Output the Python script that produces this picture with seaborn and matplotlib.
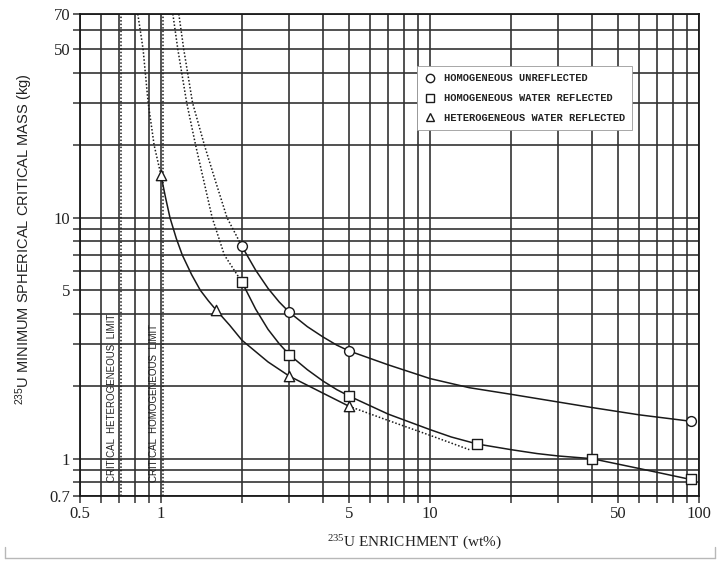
import matplotlib
matplotlib.use("Agg")
import matplotlib.pyplot as plt
from matplotlib.ticker import FixedLocator, FixedFormatter, NullFormatter
from matplotlib.lines import Line2D
import seaborn as sns
import pandas as pd

# ---------------- data ----------------
# marker points
circ_x = [2.0, 3.0, 5.0, 93.0]
circ_y = [7.6, 4.05, 2.8, 1.43]
sq_x = [2.0, 3.0, 5.0, 15.0, 40.0, 93.0]
sq_y = [5.4, 2.7, 1.82, 1.15, 1.0, 0.82]
tri_x = [1.0, 1.6, 3.0, 5.0]
tri_y = [15.0, 4.15, 2.2, 1.65]

# curves
circ_dot_x = [1.165, 1.215, 1.31, 1.45, 1.6, 1.76, 2.0]
circ_dot_y = [70, 50, 30, 20, 14, 10, 7.6]
circ_sol_x = [2.0, 2.25, 2.5, 2.75, 3.0, 3.5, 4.0, 4.5, 5.0, 7.0, 10.0, 14.0,
              20.0, 40.0, 60.0, 93.0]
circ_sol_y = [7.6, 6.05, 5.09, 4.47, 4.05, 3.53, 3.2, 2.96, 2.8, 2.45, 2.15, 1.97,
              1.85, 1.63, 1.52, 1.43]

sq_dot_x = [1.107, 1.155, 1.246, 1.345, 1.55, 1.72, 2.0]
sq_dot_y = [70, 50, 30, 20, 10, 7.0, 5.4]
sq_sol_x = [2.0, 2.25, 2.5, 2.75, 3.0, 3.5, 4.0, 4.5, 5.0, 7.0, 10.0, 12.0, 15.0,
            20.0, 25.0, 30.0, 40.0, 60.0, 93.0]
sq_sol_y = [5.4, 4.17, 3.44, 3.0, 2.7, 2.34, 2.1, 1.935, 1.82, 1.53, 1.32, 1.23, 1.15,
            1.09, 1.05, 1.026, 1.0, 0.91, 0.82]

tri_dot_top_x = [0.82, 0.858, 0.896, 0.943, 1.0]
tri_dot_top_y = [70, 50, 30, 20, 15]
tri_sol_x = [1.0, 1.04, 1.08, 1.14, 1.2, 1.3, 1.4, 1.5, 1.6, 1.8, 2.0, 2.5, 3.0, 4.0, 5.0]
tri_sol_y = [15.0, 12.1, 10.0, 8.2, 7.0, 5.8, 5.0, 4.52, 4.15, 3.58, 3.1, 2.52, 2.2, 1.87, 1.65]
tri_dot_end_x = [5.0, 7.0, 10.0, 14.0]
tri_dot_end_y = [1.65, 1.44, 1.25, 1.09]

limit_het = 0.71
limit_hom = 1.02

legend_labels = ["HOMOGENEOUS UNREFLECTED",
                 "HOMOGENEOUS WATER REFLECTED",
                 "HETEROGENEOUS WATER REFLECTED"]
limit_labels = ["CRITICAL  HETEROGENEOUS  LIMIT", "CRITICAL  HOMOGENEOUS  LIMIT"]

x_major = [0.5, 1, 5, 10, 50, 100]
x_major_labels = ["0.5", "1", "5", "10", "50", "100"]
x_minor = [0.6, 0.7, 0.8, 0.9, 2, 3, 4, 6, 7, 8, 9, 20, 30, 40, 60, 70, 80, 90]
y_major = [0.7, 1, 5, 10, 50, 70]
y_major_labels = ["0.7", "1", "5", "10", "50", "70"]
y_minor = [0.8, 0.9, 2, 3, 4, 6, 7, 8, 9, 20, 30, 40, 60]

# ---------------- style ----------------
sns.set_theme(style="white")
plt.rcParams["font.family"] = ["Liberation Serif", "DejaVu Serif"]
plt.rcParams["mathtext.fontset"] = "custom"
plt.rcParams["mathtext.rm"] = "Liberation Serif"
plt.rcParams["mathtext.default"] = "regular"

W, H = 720, 562
L, R, T, B = 80, 699, 14, 496
fig = plt.figure(figsize=(7.2, 5.62), dpi=100)
ax = fig.add_axes([L / W, 1 - B / H, (R - L) / W, (B - T) / H])
ax.set_xscale("log")
ax.set_yscale("log")
ax.set_xlim(0.5, 100)
ax.set_ylim(0.7, 70)

ink = "#1a1a1a"
gridc = "#333333"
txtc = "#222222"

ax.xaxis.set_major_locator(FixedLocator(x_major))
ax.xaxis.set_major_formatter(FixedFormatter(x_major_labels))
ax.xaxis.set_minor_locator(FixedLocator(x_minor))
ax.xaxis.set_minor_formatter(NullFormatter())
ax.yaxis.set_major_locator(FixedLocator(y_major))
ax.yaxis.set_major_formatter(FixedFormatter(y_major_labels))
ax.yaxis.set_minor_locator(FixedLocator(y_minor))
ax.yaxis.set_minor_formatter(NullFormatter())
ax.grid(True, which="both", color=gridc, lw=1.2)
ax.set_axisbelow(True)
ax.tick_params(which="both", direction="out", length=5, width=1.1,
               color=gridc, left=True, bottom=True, labelsize=12, pad=2,
               labelcolor=txtc)
for s in ax.spines.values():
    s.set_color(ink)
    s.set_linewidth(1.3)

# ---------------- curves ----------------
dots = (0, (1, 1.3))


def curve(xs, ys, ls):
    df = pd.DataFrame({"x": xs, "y": ys})
    sns.lineplot(data=df, x="x", y="y", ax=ax, estimator=None, sort=False,
                 color=ink, lw=1.1, linestyle=ls, zorder=3)


curve(circ_dot_x, circ_dot_y, dots)
curve(circ_sol_x, circ_sol_y, "-")
curve(sq_dot_x, sq_dot_y, dots)
curve(sq_sol_x, sq_sol_y, "-")
curve(tri_dot_top_x, tri_dot_top_y, dots)
curve(tri_sol_x, tri_sol_y, "-")
curve(tri_dot_end_x, tri_dot_end_y, dots)

for lx in (limit_het, limit_hom):
    ax.axvline(lx, color=ink, lw=1.1, linestyle=dots, zorder=3)

# ---------------- markers ----------------
mk = dict(facecolor="white", edgecolor=ink, linewidth=1.0, zorder=5, ax=ax, legend=False)
sns.scatterplot(x=circ_x, y=circ_y, marker="o", s=50, **mk)
sns.scatterplot(x=sq_x, y=sq_y, marker="s", s=50, **mk)
sns.scatterplot(x=tri_x, y=tri_y, marker="^", s=55, **mk)

# ---------------- limit labels ----------------
lim_font = dict(family=["Liberation Sans", "DejaVu Sans"], fontsize=7, color=txtc,
                rotation=90, ha="center", va="bottom", zorder=4)
ax.text(0.658, 0.8, limit_labels[0], **lim_font)
ax.text(0.94, 0.8, limit_labels[1], **lim_font)

# ---------------- legend ----------------
handles = [
    Line2D([], [], ls="none", marker=m, mfc="white", mec=ink, ms=6, mew=1.0)
    for m in ("o", "s", "^")
]
leg = ax.legend(handles, legend_labels, loc="upper left",
                bbox_to_anchor=(0.544, 0.892), frameon=True, fancybox=False,
                prop=dict(family=["Liberation Mono", "DejaVu Sans Mono"],
                          weight="bold", size=7.5),
                handletextpad=0.7, labelspacing=0.95, borderpad=0.7,
                handlelength=1.2, borderaxespad=0)
leg.get_frame().set_edgecolor("#999999")
leg.get_frame().set_linewidth(0.6)
leg.get_frame().set_facecolor("white")
leg.get_frame().set_alpha(1)
leg.set_zorder(10)
for t in leg.get_texts():
    t.set_color(txtc)

# ---------------- axis labels ----------------
ax.set_xlabel(r"$^{235}$U ENRICHMENT (wt%)", fontsize=11, color=txtc)
ax.xaxis.set_label_coords((414 - L) / (R - L), -(534 - B) / (B - T))
ax.set_ylabel(r"$^{235}$U MINIMUM SPHERICAL CRITICAL MASS (kg)", fontsize=10.5,
              color=txtc, family=["Liberation Sans", "DejaVu Sans"])
ax.yaxis.set_label_coords(-(L - 35) / (R - L), (B - 239) / (B - T))

# faint scan frame at the bottom of the figure
fy = 1 - 558 / H
fig.add_artist(Line2D([5 / W, 715 / W], [fy, fy], color="0.72", lw=1))
fig.add_artist(Line2D([5 / W, 5 / W], [fy, 1 - 547 / H], color="0.72", lw=1))
fig.add_artist(Line2D([715 / W, 715 / W], [fy, 1 - 547 / H], color="0.72", lw=1))

fig.savefig("out.png", dpi=100)
